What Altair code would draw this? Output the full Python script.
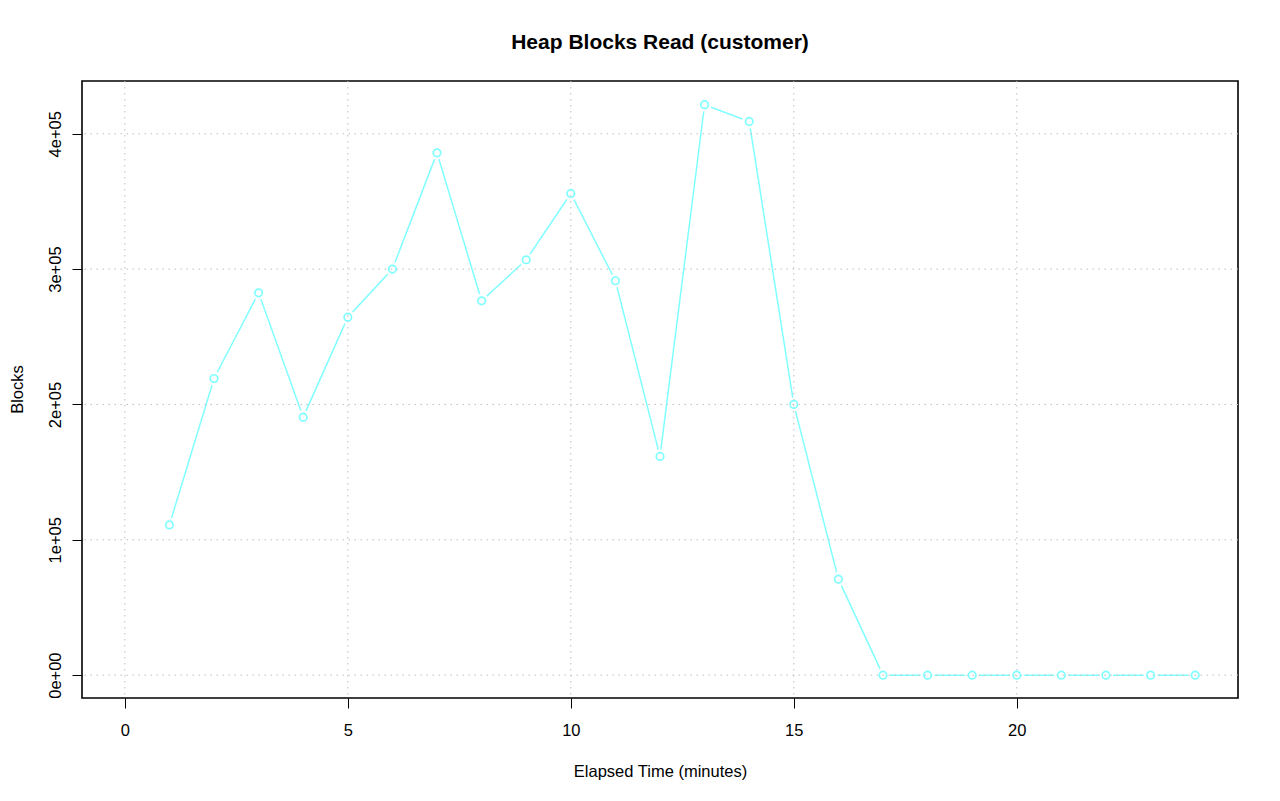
import altair as alt
import pandas as pd

# ---- data ----
minutes = list(range(1, 25))
blocks = [111000, 219200, 282500, 190600, 264500, 300000, 385900, 276600,
          306900, 355900, 291400, 161600, 421500, 409100, 200000, 70900,
          0, 0, 0, 0, 0, 0, 0, 0]
x_ticks = [0, 5, 10, 15, 20]
y_ticks = [0, 100000, 200000, 300000, 400000]
y_tick_labels = ["0e+00", "1e+05", "2e+05", "3e+05", "4e+05"]

title_text = "Heap Blocks Read (customer)"
x_title = "Elapsed Time (minutes)"
y_title = "Blocks"

LINE_COLOR = "#80ffff"
GRID_COLOR = "#bebebe"
FONT = "Liberation Sans"
FS = 16.5

df = pd.DataFrame({"minute": minutes, "blocks": blocks})
xgrid = pd.DataFrame({"v": x_ticks})
ygrid = pd.DataFrame({"v": y_ticks})

x_dom = [-0.96, 24.96]
y_dom = [-16900, 439000]

label_map = "{" + ",".join(f"'{v}':'{l}'" for v, l in zip(y_ticks, y_tick_labels)) + "}"

x_enc = alt.X(
    "minute:Q",
    scale=alt.Scale(domain=x_dom, nice=False, zero=False),
    axis=alt.Axis(
        values=x_ticks, title=x_title, grid=False, domain=False,
        tickSize=10, tickColor="black", tickWidth=1,
        labelFont=FONT, labelFontSize=FS, labelColor="black",
        labelBaseline="alphabetic", labelPadding=27,
        titleFont=FONT, titleFontSize=FS, titleFontWeight="normal",
        titleColor="black", titleBaseline="alphabetic",
        titleX=578, titleY=78, titleAnchor="middle", titleAlign="center",
    ),
)
y_enc = alt.Y(
    "blocks:Q",
    scale=alt.Scale(domain=y_dom, nice=False, zero=False),
    axis=alt.Axis(
        values=y_ticks, title=y_title, grid=False, domain=False,
        labelExpr=f"{label_map}[datum.value]",
        tickSize=10, tickColor="black", tickWidth=1,
        labelFont=FONT, labelFontSize=FS, labelColor="black",
        labelAngle=-90, labelAlign="center", labelBaseline="alphabetic",
        labelPadding=12,
        titleFont=FONT, titleFontSize=FS, titleFontWeight="normal",
        titleColor="black", titleAngle=-90, titleBaseline="alphabetic",
        titleAlign="center", titleX=-60, titleY=308,
    ),
)

base = alt.Chart(df)

line = base.mark_line(color=LINE_COLOR, strokeWidth=1.5).encode(x=x_enc, y=y_enc)
halo = base.mark_point(filled=True, color="white", opacity=1, size=200,
                       shape="circle").encode(x="minute:Q", y="blocks:Q")

xg = alt.Chart(xgrid).mark_rule(color=GRID_COLOR, strokeWidth=1,
                                strokeDash=[1.5, 4.5]).encode(x="v:Q")
yg = alt.Chart(ygrid).mark_rule(color=GRID_COLOR, strokeWidth=1,
                                strokeDash=[1.5, 4.5]).encode(y="v:Q")

pts = base.mark_point(filled=False, color=LINE_COLOR, size=56,
                      strokeWidth=1.7, shape="circle", opacity=1).encode(
    x="minute:Q", y="blocks:Q")

chart = alt.layer(line, halo, xg, yg, pts).properties(
    width=1156, height=617,
    title=alt.TitleParams(
        text=title_text, font=FONT, fontSize=21, fontWeight="bold",
        color="black", anchor="middle", frame="group",
        baseline="alphabetic", offset=11,
    ),
    autosize=alt.AutoSizeParams(type="none"),
    padding={"left": 74, "top": 73, "right": 34, "bottom": 88},
).configure(
    background="white",
    view=alt.ViewConfig(stroke="black", strokeWidth=1.6),
)

chart.save("out.html", embed_options={"renderer": "svg", "actions": False})
